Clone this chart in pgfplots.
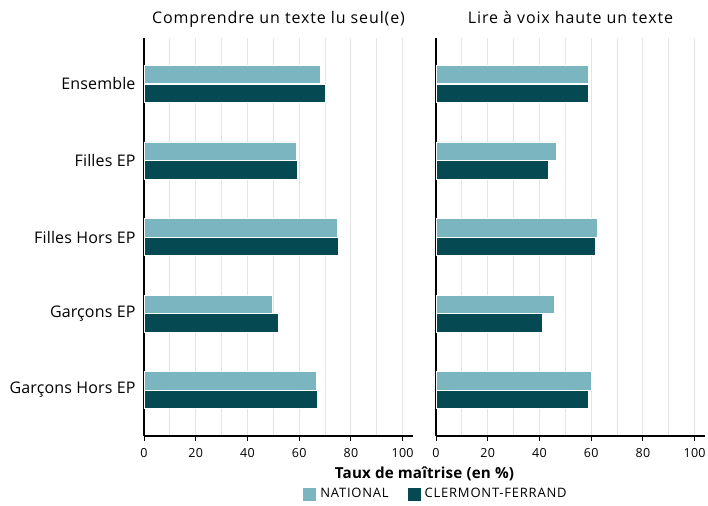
\documentclass[border=0pt]{standalone}
\usepackage{pgfplots}
\pgfplotsset{compat=1.18}
\usepackage{fontspec}
\setmainfont{Open Sans}
\newfontfamily\titlefont[LetterSpace=5.5]{Open Sans}
\newfontfamily\catfont[LetterSpace=1]{Open Sans}
\newfontfamily\legfont[LetterSpace=6]{Open Sans}
\newfontfamily\tickfont[LetterSpace=2]{Open Sans}
\newfontfamily\xlabfont[LetterSpace=1]{Open Sans}
\definecolor{natc}{HTML}{7AB5C0}
\definecolor{cfc}{HTML}{054A52}
\definecolor{gridc}{HTML}{E4E4E4}
\pgfplotsset{
  panel/.style={
    scale only axis, width=269pt, height=398pt,
    xmin=0, xmax=104, ymin=-0.6, ymax=4.6,
    axis x line*=bottom, axis y line*=left,
    axis line style={black, line width=1.5pt},
    xtick={0,20,...,100}, minor xtick={10,30,...,90},
    xmajorgrids, xminorgrids,
    major grid style={gridc, line width=1.1pt},
    minor grid style={gridc, line width=1.1pt},
    major x tick style={black, line width=1pt},
    minor x tick style={draw=none},
    major tick length=5pt,
    tick align=outside,
    ytick={0,1,2,3,4},
    ytick style={draw=none},
    /pgf/number format/assume math mode=true,
    xticklabel style={font=\tickfont\fontsize{12.5}{14}\selectfont, yshift=-4pt},
    yticklabel style={font=\catfont\fontsize{16}{18}\selectfont},
    title style={at={(axis description cs:0.5,1)}, anchor=base, yshift=8.5pt, font=\titlefont\fontsize{16}{18}\selectfont},
    xbar, bar width=18.4pt,
    every axis plot/.append style={draw=white, line width=0.8pt},
  }
}
\begin{document}
\begin{tikzpicture}
\useasboundingbox (0pt,0pt) rectangle (708pt,-505pt);
\begin{axis}[panel, at={(144pt,-436pt)}, anchor=south west,
  title={Comprendre un texte lu seul(e)},
  yticklabels={Garçons Hors EP, Garçons EP, Filles Hors EP, Filles EP, Ensemble}]
\addplot[fill=natc, bar shift=9.3pt] coordinates {(66.7,0) (49.7,1) (74.8,2) (59.0,3) (68.3,4)};
\addplot[fill=cfc, bar shift=-9.3pt] coordinates {(67.1,0) (51.9,1) (75.2,2) (59.4,3) (70.2,4)};
\end{axis}
\begin{axis}[panel, at={(436pt,-436pt)}, anchor=south west,
  title={Lire à voix haute un texte},
  yticklabels={},
  legend style={at={(axis description cs:0,0)}, anchor=center, yshift=-58pt, draw=none, fill=none,
    font=\legfont\fontsize{13}{15}\selectfont, legend columns=2,
    /tikz/every even column/.append style={column sep=17pt},
    /tikz/every odd column/.append style={column sep=2pt}},
  legend image code/.code={\fill[#1, draw=none] (0pt,-6.5pt) rectangle (13pt,6.5pt);}]
\addplot[fill=natc, bar shift=9.3pt] coordinates {(60.1,0) (45.6,1) (62.3,2) (46.4,3) (58.8,4)};
\addplot[fill=cfc, bar shift=-9.3pt] coordinates {(58.8,0) (41.0,1) (61.5,2) (43.3,3) (58.8,4)};
\legend{NATIONAL, CLERMONT-FERRAND}
\end{axis}
\node[font=\xlabfont\fontsize{15.2}{17}\selectfont\bfseries] at (424.5pt,-474pt) {Taux de maîtrise (en \%)};
\end{tikzpicture}
\end{document}
